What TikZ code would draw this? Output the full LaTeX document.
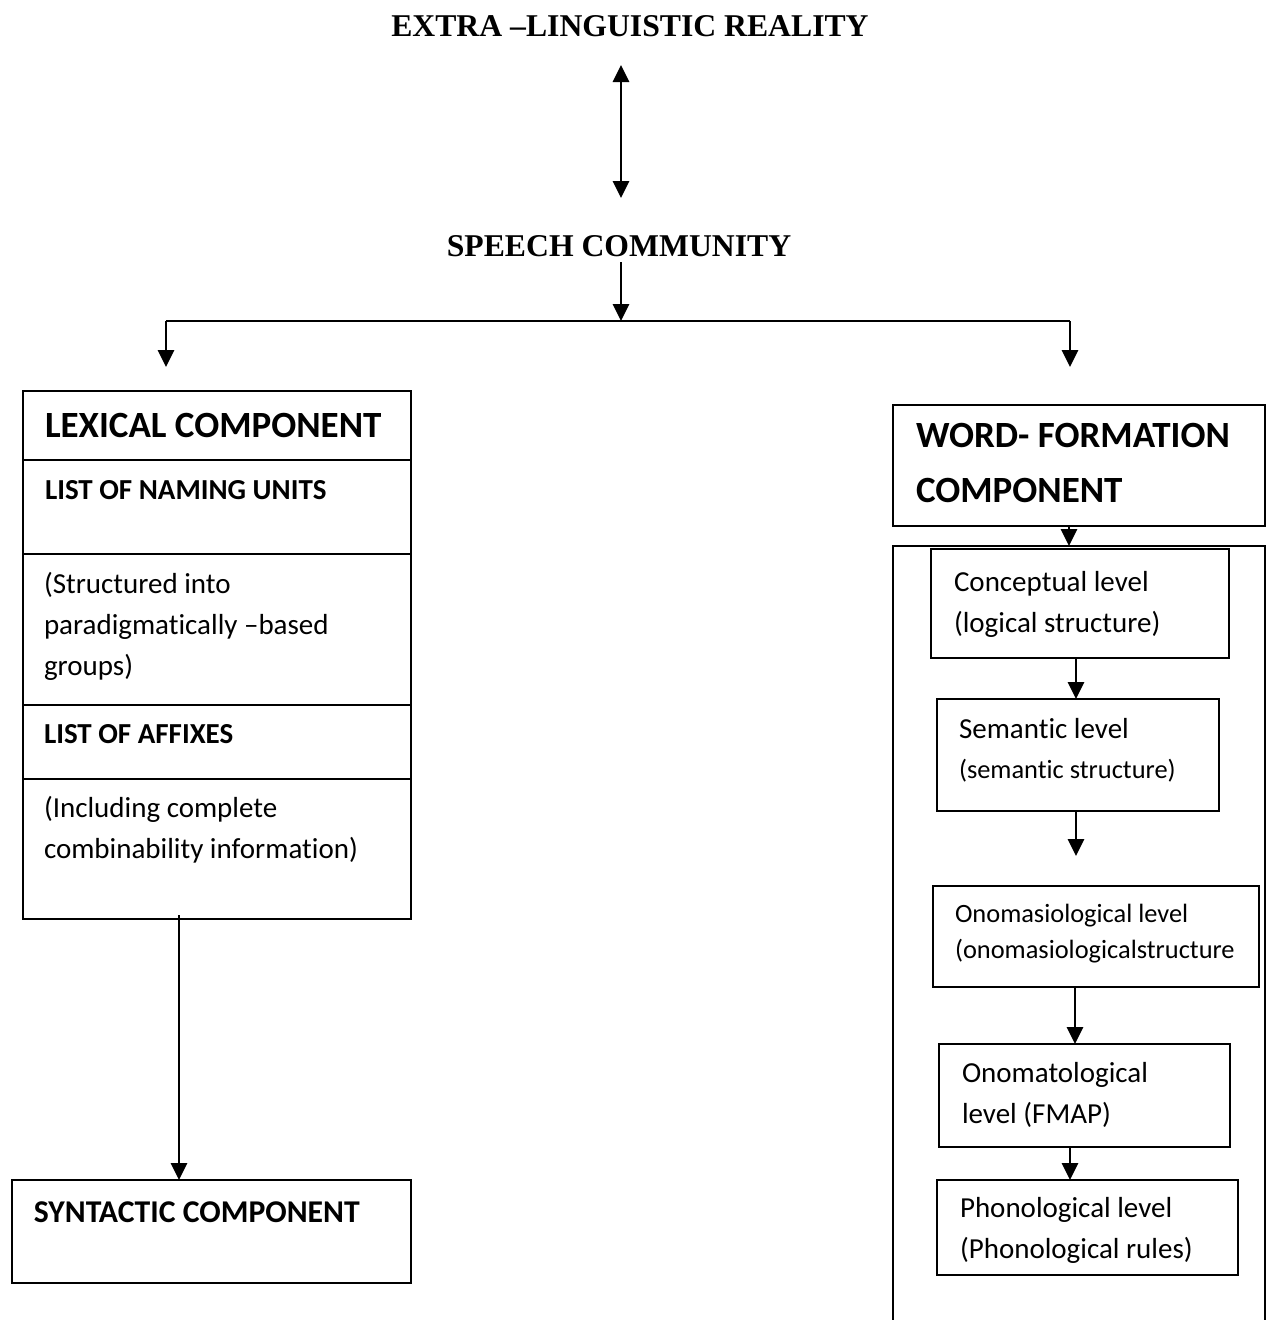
\documentclass[tikz,border=0pt]{standalone}
\usepackage{fontspec}
\setmainfont{Carlito}[Ligatures=NoCommon]
\newfontfamily\serifhd{Liberation Serif}
\usetikzlibrary{arrows.meta}
\newcommand{\hdA}{\serifhd\bfseries\fontsize{31.7}{38}\selectfont}
\newcommand{\bxBig}{\bfseries\fontsize{37}{55}\selectfont}
\newcommand{\bxMed}{\bfseries\fontsize{31.7}{40}\selectfont}
\newcommand{\bxSm}{\bfseries\fontsize{29}{41}\selectfont}
\newcommand{\txN}{\fontsize{29}{41}\selectfont}
\newcommand{\txS}{\fontsize{26.4}{36}\selectfont}

\begin{document}
\begin{tikzpicture}[x=1pt,y=-1pt
	,>={Triangle[length=17pt,width=16pt]}
	,line width=2pt]
  \tikzstyle{box}=[draw,rectangle,inner sep=0pt,outer sep=0pt
  ,anchor=north west]
  % multi-line texts sit on the baseline of their last line
  \tikzstyle{txt}=[inner sep=0pt,anchor=base west,align=left]
  \tikzstyle{flow}=[->,line width=2.8pt]

  \useasboundingbox (0,0) rectangle (1272,1320);

  % headings
  \node[inner sep=0pt,anchor=base,font=\hdA] (extra) at (630,36)
  {EXTRA –LINGUISTIC REALITY};
  \node[inner sep=0pt,anchor=base,font=\hdA] (speech) at (619,256)
  {SPEECH COMMUNITY};

  \coordinate (erTop) at (621,65);
  \coordinate (erBot) at (621,198);
  \coordinate (scOut) at (621,262);
  \coordinate (split) at (621,321);
  \coordinate (brL) at (166,321);
  \coordinate (brR) at (1070,321);
  \coordinate (tipL) at (166,367);
  \coordinate (tipR) at (1070,367);

  % lexical component (table)
  \node[box,minimum width=388pt,minimum height=69pt]  (lexhead) at (23,391) {};
  \node[box,minimum width=388pt,minimum height=94pt]  (naming) at (lexhead.south west) {};
  \node[box,minimum width=388pt,minimum height=151pt] (struct) at (naming.south west) {};
  \node[box,minimum width=388pt,minimum height=74pt]  (affix) at (struct.south west) {};
  \node[box,minimum width=388pt,minimum height=140pt] (incl) at (affix.south west) {};

  \node[txt,font=\bxBig] (lexT) at (44,437) {LEXICAL COMPONENT};
  \node[txt,font=\bxSm] (namingT) at (44,499) {LIST OF NAMING UNITS};
  \node[txt,font=\txN] (structT) at (43,675)
  {(Structured into\\paradigmatically –based\\groups)};
  \node[txt,font=\bxSm] (affixT) at (43,743) {LIST OF AFFIXES};
  \node[txt,font=\txN] (inclT) at (43,858)
  {(Including complete\\combinability information)};

  % syntactic component
  \node[box,minimum width=399pt,minimum height=103pt] (syn) at (12,1180) {};
  \node[txt,font=\bxMed] (synT) at (33,1222) {SYNTACTIC COMPONENT};

  % word-formation component
  \node[box,minimum width=372pt,minimum height=121pt] (wf) at (893,405) {};
  \node[txt,font=\bxBig] (wfT) at (915,502) {WORD- FORMATION\\COMPONENT};
  \node[box,minimum width=372pt,minimum height=800pt] (outer) at (893,546) {};

  % levels
  \node[box,minimum width=298pt,minimum height=109pt] (conc) at (931,549) {};
  \node[txt,font=\txN] (concT) at (953,632)
  {Conceptual level\\(logical structure)};

  \node[box,minimum width=282pt,minimum height=112pt] (sem) at (937,699) {};
  \node[txt,font=\txN] (semT) at (958,738) {Semantic level};
  \node[txt,font=\txS] (semS) at (958,778) {(semantic structure)};
  \coordinate (semTip) at (1076,856);

  \node[box,minimum width=326pt,minimum height=101pt] (onomas) at (933,886) {};
  \node[txt,font=\txS] (onomasT) at (954,958)
  {Onomasiological level\\(onomasiologicalstructure};

  \node[box,minimum width=291pt,minimum height=103pt] (onomat) at (939,1044) {};
  \node[txt,font=\txN] (onomatT) at (961,1123)
  {Onomatological\\level (FMAP)};

  \node[box,minimum width=301pt,minimum height=95pt] (phon) at (937,1180) {};
  \node[txt,font=\txN] (phonT) at (959,1258)
  {Phonological level\\(Phonological rules)};

  % connectors
  \draw[<->,line width=2.8pt] (erTop) -- (erBot);
  \draw[flow] (scOut) -- (split);
  \draw[line width=2.5pt] (brL) -- (brR);
  \draw[flow] (brL) -- (tipL);
  \draw[flow] (brR) -- (tipR);

  \draw[flow] ([yshift=4pt]incl.south -| 179,0) -- (syn.north -| 179,0);

  \draw[flow] (wf.south -| 1069,0) -- (outer.north -| 1069,0);
  \draw[flow] (conc.south -| 1076,0) -- (sem.north -| 1076,0);
  \draw[flow] (sem.south -| 1076,0) -- (semTip);
  \draw[flow] (onomas.south -| 1075,0) -- (onomat.north -| 1075,0);
  \draw[flow] (onomat.south -| 1070,0) -- (phon.north -| 1070,0);

\end{tikzpicture}
\end{document}
